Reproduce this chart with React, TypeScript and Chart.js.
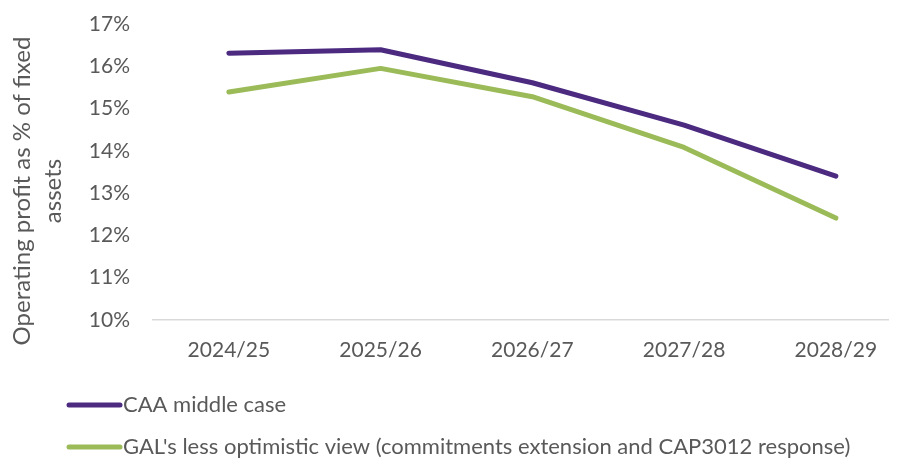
import React, { useEffect, useRef } from "react";
import { Chart, registerables } from "chart.js";

Chart.register(...registerables);

const categories = ["2024/25", "2025/26", "2026/27", "2027/28", "2028/29"];
const caaMiddleCase = [16.31, 16.39, 15.61, 14.61, 13.4];
const galLessOptimistic = [15.39, 15.95, 15.28, 14.08, 12.41];
const seriesLabels = [
  "CAA middle case",
  "GAL's less optimistic view (commitments extension and CAP3012 response)",
];
const seriesColors = ["#4B2A80", "#9BBB59"];
const yTickValues = [10, 11, 12, 13, 14, 15, 16, 17];
const yTitleLines = ["Operating profit as % of fixed", "assets"];

const FONT = "Lato, 'Open Sans', sans-serif";
const TEXT_COLOR = "#595959";

const decorPlugin = {
  id: "decor",
  afterDraw(chart: any) {
    const ctx = chart.ctx as CanvasRenderingContext2D;
    ctx.save();
    ctx.fillStyle = TEXT_COLOR;
    ctx.font = `24px ${FONT}`;
    // Y axis title (two lines, rotated)
    const cy = 183;
    const baselines = [22, 53];
    yTitleLines.forEach((line, i) => {
      ctx.save();
      ctx.translate(baselines[i], cy);
      ctx.rotate(-Math.PI / 2);
      ctx.textAlign = "center";
      ctx.textBaseline = "alphabetic";
      ctx.fillText(line, 0, 0);
      ctx.restore();
    });
    // Legend
    ctx.font = `22px ${FONT}`;
    const rows = [397, 439];
    chart.data.datasets.forEach((ds: any, i: number) => {
      const y = rows[i];
      ctx.beginPath();
      ctx.strokeStyle = ds.borderColor;
      ctx.lineWidth = 5;
      ctx.lineCap = "round";
      ctx.moveTo(61, y);
      ctx.lineTo(112, y);
      ctx.stroke();
      ctx.textAlign = "left";
      ctx.textBaseline = "middle";
      ctx.fillStyle = TEXT_COLOR;
      ctx.fillText(ds.label, 115, y);
    });
    ctx.restore();
  },
};

export default function App() {
  const ref = useRef<HTMLCanvasElement | null>(null);
  useEffect(() => {
    if (!ref.current) return;
    const toPoints = (arr: number[]) => arr.map((v, i) => ({ x: i, y: v }));
    const chart = new Chart(ref.current, {
      type: "line",
      data: {
        datasets: [
          {
            label: seriesLabels[0],
            data: toPoints(caaMiddleCase),
            borderColor: seriesColors[0],
            backgroundColor: seriesColors[0],
            borderWidth: 5,
            pointRadius: 0,
            borderCapStyle: "round",
            borderJoinStyle: "round",
            tension: 0,
          },
          {
            label: seriesLabels[1],
            data: toPoints(galLessOptimistic),
            borderColor: seriesColors[1],
            backgroundColor: seriesColors[1],
            borderWidth: 5,
            pointRadius: 0,
            borderCapStyle: "round",
            borderJoinStyle: "round",
            tension: 0,
          },
        ],
      },
      options: {
        responsive: false,
        animation: false,
        layout: { padding: { top: 16, left: 0, right: 0, bottom: 0 } },
        plugins: {
          legend: { display: false },
          tooltip: { enabled: false },
        },
        scales: {
          x: {
            type: "linear",
            min: -0.5,
            max: 4.403,
            afterBuildTicks: (scale: any) => {
              scale.ticks = categories.map((_, i) => ({ value: i }));
            },
            afterFit: (scale: any) => {
              scale.height = 140;
              scale.paddingLeft = 0;
              scale.paddingRight = 0;
            },
            grid: { display: false, drawTicks: false },
            border: { display: true, color: "#D9D9D9", width: 1.5 },
            ticks: {
              padding: 18,
              color: TEXT_COLOR,
              font: { family: FONT, size: 21 },
              maxRotation: 0,
              autoSkip: false,
              callback: (v: any) => categories[Math.round(Number(v))] ?? "",
            },
          },
          y: {
            min: yTickValues[0],
            max: yTickValues[yTickValues.length - 1],
            afterBuildTicks: (scale: any) => {
              scale.ticks = yTickValues.map((v) => ({ value: v }));
            },
            afterFit: (scale: any) => {
              scale.width = 145;
              scale.paddingTop = 0;
              scale.paddingBottom = 0;
            },
            grid: { display: false, drawTicks: false },
            border: { display: false },
            ticks: {
              padding: 23,
              color: TEXT_COLOR,
              font: { family: FONT, size: 21 },
              callback: (v: any) => `${v}%`,
            },
          },
        },
      },
      plugins: [decorPlugin],
    });
    return () => chart.destroy();
  }, []);
  return (
    <div style={{ width: 889, height: 452 }}>
      <canvas ref={ref} width={889} height={452} style={{ display: "block" }} />
    </div>
  );
}
